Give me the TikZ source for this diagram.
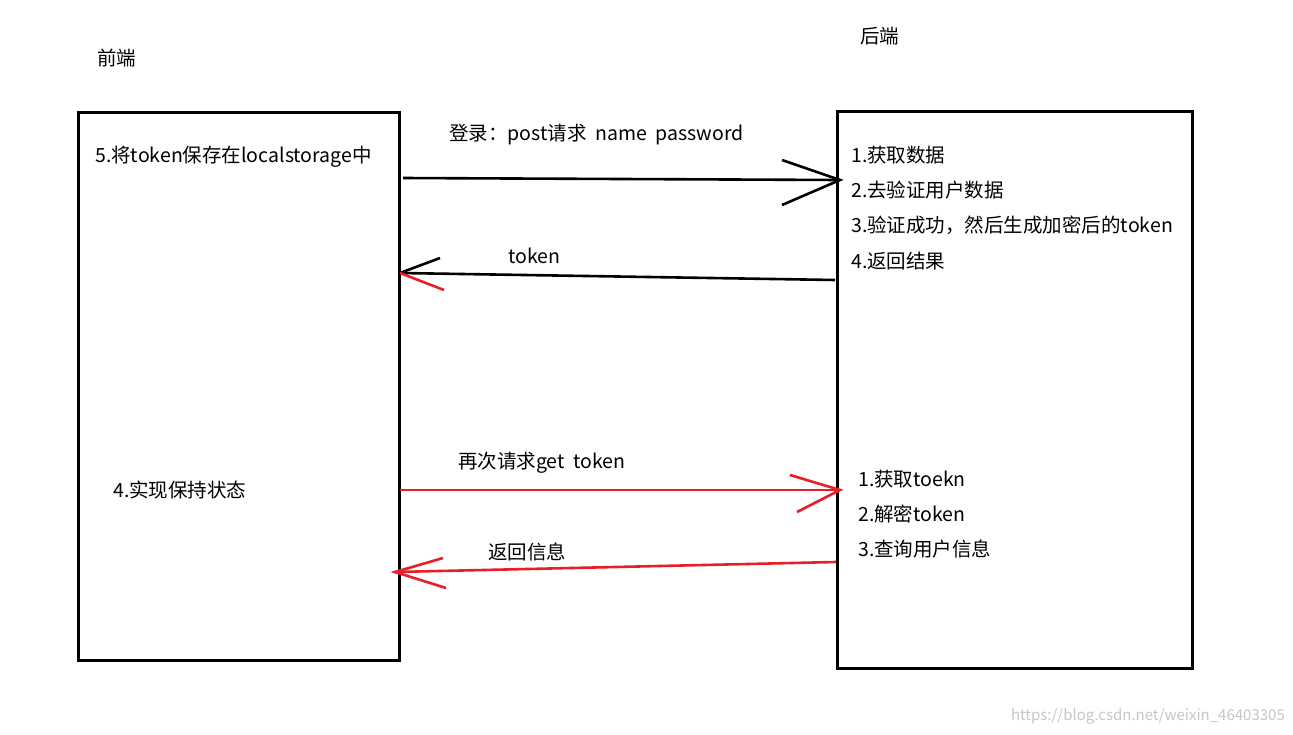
\documentclass[tikz,border=0pt]{standalone}
\usepackage{fontspec}
\setmainfont{Noto Sans CJK SC}
\definecolor{myred}{RGB}{232,30,40}
\begin{document}
\begin{tikzpicture}[x=1pt,y=-1pt,
  box/.style={draw,line width=3pt},
  lbl/.style={anchor=west,inner sep=0pt,font=\fontsize{19.5}{21}\selectfont},
  blk/.style={line width=2.6pt,black},
  rd/.style={line width=2.6pt,myred}]
\useasboundingbox[fill=white] (0,0) rectangle (1293,734);
\draw[box] (78,112) rectangle (399,660);
\draw[box] (837,111) rectangle (1192,668);
\node[lbl] (fe) at (97,58) {前端};
\node[lbl] (be) at (860,36) {后端};
\node[lbl] (l1) at (95,157) {5.将token保存在localstorage中};
\node[lbl] (l2) at (113,490) {4.实现保持状态};
\node[lbl] (r1) at (851,155) {1.获取数据};
\node[lbl] (r2) at (851,190) {2.去验证用户数据};
\node[lbl] (r3) at (851,225) {3.验证成功，然后生成加密后的token};
\node[lbl] (r4) at (851,261) {4.返回结果};
\node[lbl] (s1) at (858,479) {1.获取toekn};
\node[lbl] (s2) at (858,514) {2.解密token};
\node[lbl] (s3) at (858,549) {3.查询用户信息};
\node[lbl] (a1) at (449,135) {登录：post请求\ \ name\ \ password};
\node[lbl] (a2) at (508,256) {token};
\node[lbl] (a3) at (458,463) {再次请求get\ \ token};
\node[lbl] (a4) at (488,552) {返回信息};
\node[anchor=east,inner sep=0pt,text=gray!45,font=\fontsize{15}{16}\selectfont] (wm) at (1285,716) {https://blog.csdn.net/weixin\_46403305};
% arrow 1
\coordinate (p1) at (403,178); \coordinate (q1) at (840,180);
\draw[blk] (p1) -- (q1);
\draw[blk] (782,160) -- (q1) -- (782,205);
% arrow 2
\coordinate (p2) at (835,280); \coordinate (q2) at (400,273);
\draw[blk] (p2) -- (q2);
\draw[blk] (440,258) -- (q2);
\draw[rd] (q2) -- (444,290);
% arrow 3
\coordinate (p3) at (400,490); \coordinate (q3) at (840,490);
\draw[rd] (p3) -- (q3);
\draw[rd] (790,475) -- (q3) -- (797,512);
% arrow 4
\coordinate (p4) at (836,562); \coordinate (q4) at (395,572);
\draw[rd] (p4) -- (q4);
\draw[rd] (443,558) -- (q4) -- (446,588);
\end{tikzpicture}
\end{document}
